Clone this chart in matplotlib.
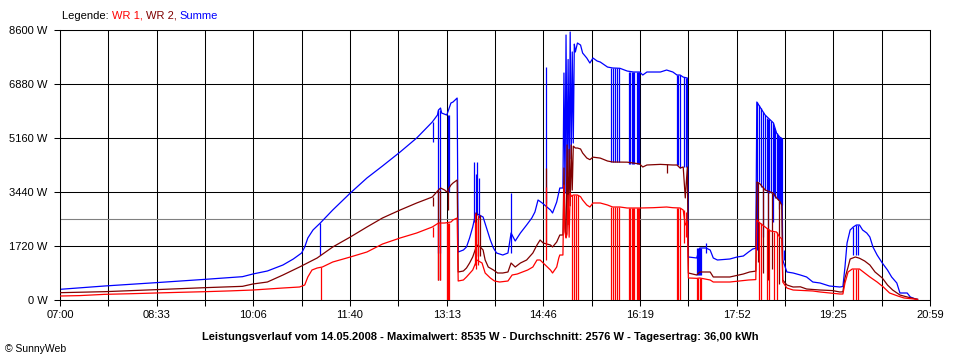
import matplotlib
matplotlib.use("Agg")
import matplotlib.pyplot as plt
import numpy as np

plt.rcParams['font.family'] = ['Liberation Sans', 'DejaVu Sans']

# ---------------- data (time "HH:MM", watts) ----------------
x_tick_labels = ["07:00", "08:33", "10:06", "11:40", "13:13", "14:46", "16:19", "17:52", "19:25", "20:59"]
y_tick_values = [0, 1720, 3440, 5160, 6880, 8600]
average_w = 2576

wr1 = [("07:00",127),("07:19",140),("07:43",180),("08:08",200),("08:32",223),("08:56",245),("09:20",265),
       ("09:44",290),("10:06",318),("10:35",382),("10:51",414),("10:56",478),("10:59",733),("11:03",955),
       ("11:08",1019),("11:13",1051),("11:23",1210),("11:40",1370),("11:56",1529),("12:11",1783),("12:28",1975),
       ("12:44",2134),("12:59",2325),("13:05",2452),("13:11",2452),("13:17",2484),("13:19",2548),("13:23",2612),
       ("13:24",605),("13:29",637),("13:32",733),("13:38",955),("13:42",1274),("13:47",1178),("13:50",860),
       ("13:55",701),("13:59",605),("14:04",573),("14:12",605),("14:16",796),("14:21",828),("14:26",892),
       ("14:31",955),("14:36",1051),("14:40",1274),("14:43",1274),("14:46",1178),("14:53",955),("14:55",860),
       ("14:59",1051),("15:01",1338),("15:02",1433),("15:05",1433),("15:06",3662),("15:07",2166),("15:08",1975),
       ("15:09",2100),("15:10",3344),("15:11",2000),("15:12",3400),("15:13",3300),("15:15",3344),("15:19",3344),
       ("15:22",3290),("15:24",3185),("15:28",3026),("15:31",2962),("15:34",3090),("15:41",3090),("15:48",3026),
       ("15:53",2962),("16:00",2962),("16:07",2930),("16:19",2930),("16:32",2940),("16:45",2962),("16:51",2940),
       ("16:58",2930),("17:01",2866),("17:03",2389),("17:05",2500),("17:06",701),("17:14",690),("17:17",701),
       ("17:27",637),("17:30",573),("17:46",573),("18:04",637),("18:11",650),("18:12",2548),("18:15",2450),
       ("18:20",2325),("18:25",2200),("18:31",2166),("18:34",2007),("18:36",1950),("18:37",573),("18:41",382),
       ("18:47",318),("19:06",287),("19:13",255),("19:32",191),("19:35",191),("19:37",541),("19:40",892),
       ("19:44",987),("19:51",987),("19:56",860),("20:01",733),("20:08",573),("20:14",414),("20:20",223),
       ("20:28",127),("20:34",64),("20:47",20)]

wr2 = [("07:00",233),("07:43",265),("08:32",329),("09:20",393),("09:56",435),("10:06",510),("10:20",573),
       ("10:35",796),("10:51",1051),("11:08",1338),("11:23",1688),("11:40",2007),("11:56",2325),("12:11",2612),
       ("12:28",2866),("12:44",3090),("12:59",3280),("13:05",3503),("13:07",3567),("13:11",3503),("13:13",3440),
       ("13:17",3662),("13:19",3726),("13:23",3822),("13:24",892),("13:29",924),("13:32",1019),("13:35",1178),
       ("13:38",1370),("13:42",1752),("13:45",1700),("13:48",1592),("13:50",1274),("13:53",1051),("13:58",955),
       ("14:02",860),("14:07",860),("14:12",892),("14:15",1178),("14:19",1051),("14:24",1178),("14:30",1274),
       ("14:36",1497),("14:40",1752),("14:43",1911),("14:46",1815),("14:53",1752),("14:55",1688),("14:59",1847),
       ("15:02",2070),("15:05",2070),("15:06",4204),("15:07",2293),("15:08",2000),("15:09",4937),("15:10",2400),
       ("15:11",4800),("15:12",3000),("15:13",4937),("15:14",3500),("15:15",4900),("15:17",4841),("15:19",4841),
       ("15:22",4810),("15:24",4682),("15:28",4523),("15:31",4470),("15:34",4550),("15:41",4520),("15:48",4427),
       ("15:53",4395),("16:07",4390),("16:13",4363),("16:19",4332),("16:22",4236),("16:26",4300),("16:39",4320),
       ("16:51",4300),("16:55",4300),("16:58",4204),("17:01",4236),("17:03",3250),("17:05",4236),("17:06",860),
       ("17:14",796),("17:17",892),("17:27",892),("17:30",733),("17:46",733),("17:59",828),("18:05",892),
       ("18:11",920),("18:12",3758),("18:15",3700),("18:20",3503),("18:25",3440),("18:28",3400),("18:31",3250),
       ("18:34",3150),("18:36",3026),("18:37",637),("18:41",478),("18:47",414),("18:54",420),("19:00",350),
       ("19:13",318),("19:25",300),("19:32",255),("19:35",260),("19:37",700),("19:40",1051),("19:42",1306),
       ("19:47",1370),("19:51",1330),("19:56",1242),("20:01",1115),("20:06",892),("20:13",701),("20:18",478),
       ("20:23",318),("20:30",159),("20:37",96),("20:47",20)]

summe = [("07:00",340),("07:43",446),("08:32",551),("09:20",658),("09:56",743),("10:06",828),("10:20",924),
         ("10:35",1115),("10:45",1306),("10:53",1497),("10:56",1688),("10:59",1975),("11:04",2230),("11:11",2452),
         ("11:23",2866),("11:40",3408),("11:56",3886),("12:11",4268),("12:28",4714),("12:44",5160),("12:59",5669),
         ("13:04",5892),("13:05",6051),("13:07",6115),("13:08",5956),("13:13",5892),("13:17",6274),("13:19",6306),
         ("13:23",6433),("13:24",1529),("13:29",1592),("13:32",1688),("13:35",1975),("13:38",2325),("13:41",2771),
         ("13:45",2700),("13:48",2643),("13:52",2230),("13:55",1911),("13:58",1656),("14:01",1497),("14:07",1433),
         ("14:12",1497),("14:15",2134),("14:19",1879),("14:24",2134),("14:30",2389),("14:35",2612),("14:38",2803),
         ("14:41",3185),("14:45",3090),("14:53",2866),("14:55",2771),("14:59",3121),("15:02",3567),("15:05",3567),
         ("15:06",7230),("15:07",3400),("15:08",8440),("15:09",3600),("15:10",7660),("15:11",4000),("15:12",8535),
         ("15:13",4500),("15:14",7900),("15:15",5000),("15:16",8150),("15:17",7900),("15:19",8185),("15:22",8121),
         ("15:24",7867),("15:28",7707),("15:31",7548),("15:34",7707),("15:38",7612),("15:41",7580),("15:48",7420),
         ("15:53",7390),("16:00",7380),("16:07",7293),("16:13",7262),("16:19",7262),("16:22",7166),("16:26",7262),
         ("16:39",7262),("16:45",7325),("16:51",7262),("16:55",7166),("16:58",7166),("17:01",7100),("17:05",7070),
         ("17:06",1370),("17:14",1338),("17:17",1656),("17:23",1656),("17:27",1592),("17:30",1338),("17:34",1274),
         ("17:46",1306),("17:53",1370),("17:59",1401),("18:04",1529),("18:08",1624),("18:11",1650),("18:12",6306),
         ("18:15",6150),("18:20",5892),("18:25",5733),("18:28",5640),("18:31",5319),("18:34",5191),("18:36",5150),
         ("18:37",1274),("18:41",892),("18:47",860),("18:54",796),("19:00",733),("19:06",573),("19:13",541),
         ("19:22",446),("19:32",414),("19:35",430),("19:37",1051),("19:39",1815),("19:42",2230),("19:45",2325),
         ("19:48",2389),("19:51",2389),("19:54",2230),("19:58",2134),("20:01",2007),("20:04",1688),("20:08",1433),
         ("20:13",1178),("20:18",955),("20:22",733),("20:27",541),("20:30",223),("20:37",223),("20:40",96),
         ("20:45",32),("20:47",20)]

# short dropouts / peaks: (time, low W, high W)
wr1_spikes = [("11:12",0,1040),("13:00",2000,2325),("13:05",637,2452),("13:06",637,2452),("13:13",0,2452),
              ("13:14",0,2452),("13:15",0,2452),("13:40",1100,2771),("13:41",1000,2500),("13:43",1100,2700),
              ("14:49",1274,3600),("15:14",0,3344),("15:16",0,3344),("15:18",0,3344),("15:20",0,3344),
              ("15:51",0,2962),("15:53",0,2962),("15:55",0,2962),("15:57",0,2962),("15:59",0,2962),
              ("16:09",0,2930),("16:10",0,2930),("16:12",0,2930),("16:13",0,2930),("16:14",0,2930),
              ("16:16",0,2930),("16:17",0,2930),("16:18",0,2930),("16:55",0,2930),("16:56",0,2930),
              ("16:58",0,2930),("17:02",1800,2866),("17:04",2000,2800),("17:14",0,700),("17:15",0,700),
              ("17:17",0,700),("17:18",0,700),("18:14",0,2500),("18:16",0,2450),("18:22",0,2300),
              ("18:24",0,2250),("18:29",0,2170),("18:31",0,2166),("19:45",0,987),("19:48",0,987),("19:50",0,987)]

wr2_spikes = [("13:00",3000,3280),("13:05",637,3503),("13:06",637,3503),("13:14",2866,3503),("13:41",1400,2803),
              ("13:43",1400,2600),("13:45",1400,2700),("14:49",1815,4204),("16:45",4050,4320),("18:13",1200,3758),
              ("18:18",860,3600),("18:23",637,3440),("18:27",1000,3400),("18:33",500,3150)]

summe_spikes = [("11:11",1433,2452),("13:00",5032,5669),("13:05",1497,6051),("13:06",1497,6051),("13:14",3440,5892),
                ("13:15",3440,5892),("13:39",2500,4395),("13:41",2700,4000),("13:42",2700,4395),("13:44",2600,3900),
                ("14:15",1497,3408),("14:49",3090,7420),("15:51",4395,7400),("15:53",4395,7390),("15:55",4395,7390),
                ("15:57",4395,7390),("15:59",4395,7380),("16:09",4332,7262),("16:10",4332,7262),("16:12",4332,7262),
                ("16:13",4332,7262),("16:14",4332,7262),("16:16",4332,7262),("16:17",4332,7262),("16:18",4332,7262),
                ("16:55",4300,7166),("16:56",4300,7166),("16:58",4204,7166),("17:02",4236,7100),("17:04",4236,7070),
                ("17:14",796,1656),("17:15",796,1656),("17:16",796,1656),("17:17",796,1656),("17:18",796,1656),
                ("17:23",1500,1815),("18:12",1592,6306),("18:14",3758,6200),("18:16",3600,6100),("18:18",2000,6000),
                ("18:20",3500,5892),("18:22",3440,5800),("18:23",1500,5780),("18:24",3400,5760),("18:26",3400,5700),
                ("18:28",2500,5640),("18:29",3300,5500),("18:30",3250,5400),("18:31",3250,5319),("18:32",3200,5250),
                ("18:33",2900,5200),("18:34",3100,5191),("18:35",3050,5170),("18:36",3026,5150),("18:38",1274,1600),
                ("19:45",1433,2325),("19:48",1433,2389),("19:50",1433,2389)]

title = ("Leistungsverlauf vom 14.05.2008 - Maximalwert: 8535 W - Durchschnitt: 2576 W - "
         "Tagesertrag: 36,00 kWh")


def tm(s):
    h, m = s.split(":")
    return int(h) * 60 + int(m)


C_WR1, C_WR2, C_SUM = "#FF0000", "#800000", "#0000FF"
W, H = 960, 360
fig = plt.figure(figsize=(W / 100, H / 100), dpi=100)
fig.patch.set_facecolor("white")
ax = fig.add_axes([60 / W, 60 / H, 870 / W, 270 / H])

t0, t1 = tm(x_tick_labels[0]), tm(x_tick_labels[-1])
ax.set_xlim(t0, t1)
ax.set_ylim(y_tick_values[0], y_tick_values[-1])

grid_x = np.linspace(t0, t1, 2 * (len(x_tick_labels) - 1) + 1)
ax.set_xticks(grid_x)
lbls = []
for i in range(len(grid_x)):
    lbls.append(x_tick_labels[i // 2] if i % 2 == 0 else "")
ax.set_xticklabels(lbls)
ax.set_yticks(y_tick_values)
ax.set_yticklabels([f"{v} W" for v in y_tick_values])
ax.tick_params(axis="both", direction="out", length=4, width=0.75, colors="black", labelsize=8)
ax.tick_params(axis="x", pad=3)
ax.tick_params(axis="y", pad=5)
ax.grid(True, color="black", linewidth=0.75)
ax.set_axisbelow(True)
for s in ax.spines.values():
    s.set_color("black")
    s.set_linewidth(0.75)

ax.axhline(average_w, color="#808080", linewidth=0.8, zorder=1.5)


def draw(series, spikes, color, z):
    xs = [tm(t) for t, _ in series]
    ys = [v for _, v in series]
    ax.plot(xs, ys, color=color, linewidth=0.9, zorder=z)
    ax.vlines([tm(t) for t, _, _ in spikes], [lo for _, lo, _ in spikes], [hi for _, _, hi in spikes],
              colors=color, linewidth=0.9, zorder=z)


draw(summe, summe_spikes, C_SUM, 2)
draw(wr2, wr2_spikes, C_WR2, 3)
draw(wr1, wr1_spikes, C_WR1, 4)

fig.text(0.5, 1 - 337 / H, title, ha="center", va="center", fontsize=8, fontweight="bold")
fig.text(5 / W, 1 - 349 / H, "\u00a9 SunnyWeb", ha="left", va="center", fontsize=7.5)

# multi-coloured legend line
fig.canvas.draw()
r = fig.canvas.get_renderer()
x = 62
for txt, col in [("Legende: ", "black"), ("WR 1, ", C_WR1), ("WR 2, ", C_WR2), ("Summe", C_SUM)]:
    t = fig.text(x / W, 1 - 16 / H, txt, color=col, ha="left", va="center", fontsize=8)
    bb = t.get_window_extent(r)
    x += bb.width

fig.savefig("out.png", dpi=100, facecolor="white")
